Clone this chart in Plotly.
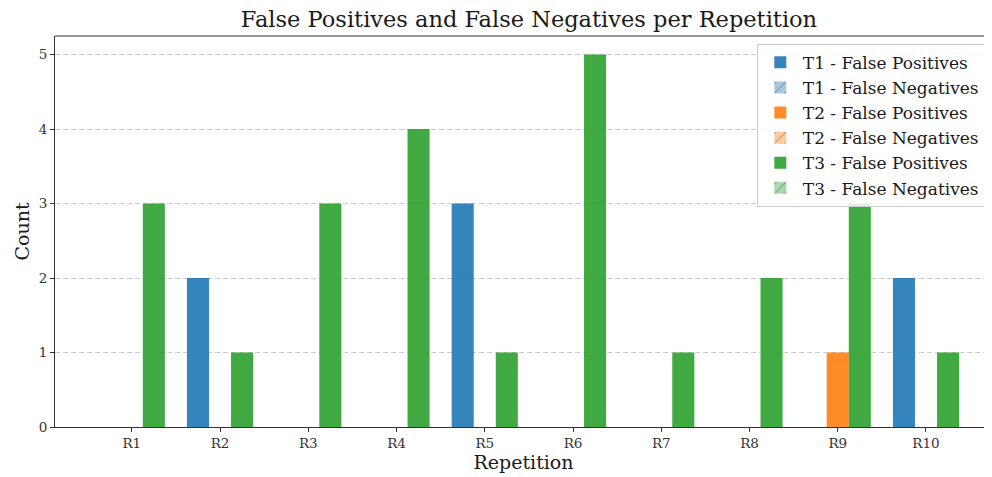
import plotly.graph_objects as go

repetitions = ["R1", "R2", "R3", "R4", "R5", "R6", "R7", "R8", "R9", "R10"]
t1_fp = [0, 2, 0, 0, 3, 0, 0, 0, 0, 2]
t1_fn = [0, 0, 0, 0, 0, 0, 0, 0, 0, 0]
t2_fp = [0, 0, 0, 0, 0, 0, 0, 0, 1, 0]
t2_fn = [0, 0, 0, 0, 0, 0, 0, 0, 0, 0]
t3_fp = [3, 1, 3, 4, 1, 5, 1, 2, 3, 1]
t3_fn = [0, 0, 0, 0, 0, 0, 0, 0, 0, 0]

x_idx = list(range(len(repetitions)))

FONT = "DejaVu Serif"
colors = {"T1": (31, 119, 180), "T2": (255, 127, 14), "T3": (44, 160, 44)}

series = [
    ("T1", "False Positives", t1_fp, t1_fp),
    ("T1", "False Negatives", t1_fn, t1_fp),
    ("T2", "False Positives", t2_fp, t2_fp),
    ("T2", "False Negatives", t2_fn, t2_fp),
    ("T3", "False Positives", t3_fp, t3_fp),
    ("T3", "False Negatives", t3_fn, t3_fp),
]

# The page body has an 8px margin, so the figure is sized to fill the rest.
W, H = 984, 469

fig = go.Figure()
for team, kind, vals, fp in series:
    r, g, b = colors[team]
    if kind == "False Positives":
        marker = dict(color=f"rgba({r},{g},{b},0.9)",
                      line=dict(width=0))
        base = None
    else:
        marker = dict(color=f"rgba({r},{g},{b},0.4)",
                      line=dict(width=0),
                      pattern=dict(shape="/", fgcolor="rgba(70,70,70,0.8)",
                                   size=9, solidity=0.15))
        base = fp
    fig.add_trace(go.Bar(
        x=x_idx, y=vals, base=base, name=f"{team} - {kind}",
        offsetgroup=team, marker=marker,
    ))

fig.update_layout(
    width=W, height=H,
    barmode="group", bargap=0.25, bargroupgap=0,
    plot_bgcolor="white", paper_bgcolor="white",
    margin=dict(l=47, r=0, t=28, b=50, autoexpand=False),
    font=dict(family=FONT, color="#262626", size=14),
    title=dict(text="False Positives and False Negatives per Repetition",
               x=521 / W, xanchor="center", y=1 - 11 / H, yanchor="middle",
               font=dict(family=FONT, size=22.5, color="#1a1a1a")),
    legend=dict(x=0.749, y=0.98, xanchor="left", yanchor="top",
                bgcolor="rgba(255,255,255,0.85)", bordercolor="#cccccc",
                borderwidth=1, font=dict(family=FONT, size=17, color="#1a1a1a"),
                tracegroupgap=0, itemwidth=35),
    showlegend=True,
)

fig.update_xaxes(
    tickmode="array", tickvals=x_idx, ticktext=repetitions,
    range=[-0.87, 9.748], showline=True, linecolor="#333333", linewidth=1,
    ticks="outside", ticklen=4, tickcolor="#333333",
    tickfont=dict(family=FONT, size=13.5, color="#333333"),
    showgrid=False, zeroline=False, automargin=False,
    title=dict(text="Repetition", font=dict(family=FONT, size=19, color="#1a1a1a"),
               standoff=1),
)
fig.update_yaxes(
    range=[0, 5.25], tickvals=[0, 1, 2, 3, 4, 5],
    showline=True, linecolor="#333333", linewidth=1,
    ticks="outside", ticklen=4, tickcolor="#333333",
    tickfont=dict(family=FONT, size=13.5, color="#333333"),
    showgrid=True, gridcolor="#cccccc", griddash="5px,3px", gridwidth=1,
    zeroline=False, automargin=False,
    title=dict(text="Count", font=dict(family=FONT, size=19, color="#1a1a1a"),
               standoff=4),
)

fig.add_shape(type="line", xref="paper", yref="paper", x0=0, x1=1, y0=1, y1=1,
              line=dict(color="#333333", width=1))

fig.write_html("out.html")
